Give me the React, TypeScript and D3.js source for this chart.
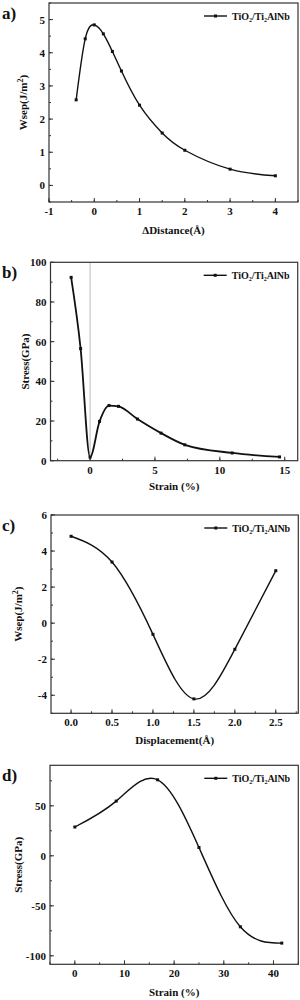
import * as React from 'react';
import * as d3 from 'd3';

// a) separation work vs distance
const distA = [-0.4, -0.2, 0, 0.2, 0.4, 0.6, 1.0, 1.5, 2.0, 3.0, 4.0];
const wsepA = [2.58, 4.42, 4.84, 4.57, 4.04, 3.45, 2.42, 1.58, 1.06, 0.49, 0.29];
// b) tensile stress vs strain
const strainB = [-1.46, -0.73, 0, 0.73, 1.46, 2.19, 3.65, 5.47, 7.3, 10.95, 14.6];
const stressB = [92.4, 56.5, 1.8, 19.8, 27.8, 27.4, 21, 13.9, 8.0, 3.9, 1.9];
// c) sliding work vs displacement
const dispC = [0, 0.5, 1.0, 1.5, 2.0, 2.5];
const wsepC = [4.82, 3.39, -0.62, -4.2, -1.45, 2.91];
// d) shear stress vs strain
const strainD = [0, 8.33, 16.67, 25, 33.33, 41.67];
const stressD = [28.8, 54.7, 76, 8.3, -71, -87.3];

const seriesName = 'TiO₂/Ti₂AlNb';
const font = '"Liberation Serif", "Times New Roman", serif';

type PanelProps = {
  tag: string;
  xs: number[];
  ys: number[];
  box: [number, number, number, number]; // left, top, right, bottom
  xDomain: [number, number];
  yDomain: [number, number];
  xTicks: number[];
  yTicks: number[];
  xMinor: number;
  yMinor: number;
  xFmt?: (v: number) => string;
  xTitle: string;
  yTitle: React.ReactNode;
  xTitleDy: number;
  yTitleX: number;
  curve: d3.CurveFactory;
  vline?: number;
  strokeW?: number;
};

function Panel(p: PanelProps) {
  const [l, t, r, b] = p.box;
  const x = d3.scaleLinear().domain(p.xDomain).range([l, r]);
  const y = d3.scaleLinear().domain(p.yDomain).range([b, t]);
  const line = d3.line<number>().x((_, i) => x(p.xs[i])).y(v => y(v)).curve(p.curve);
  const minorX = d3.range(Math.ceil(p.xDomain[0] / p.xMinor) * p.xMinor, p.xDomain[1] + 1e-9, p.xMinor);
  const minorY = d3.range(Math.ceil(p.yDomain[0] / p.yMinor) * p.yMinor, p.yDomain[1] + 1e-9, p.yMinor);
  const fmt = p.xFmt || ((v: number) => String(v));
  const legY = t + 13;
  return (
    <g fontFamily={font} fontWeight="bold">
      {p.vline !== undefined && (
        <line x1={x(p.vline)} x2={x(p.vline)} y1={t} y2={b} stroke="#bbb" strokeWidth={1} />
      )}
      {minorX.map((v, i) => (
        <line key={'mx' + i} x1={x(v)} x2={x(v)} y1={b} y2={b - 2} stroke="#333" />
      ))}
      {minorY.map((v, i) => (
        <line key={'my' + i} x1={l + 2} x2={l} y1={y(v)} y2={y(v)} stroke="#333" />
      ))}
      {p.xTicks.map(v => (
        <g key={'x' + v}>
          <line x1={x(v)} x2={x(v)} y1={b} y2={b - 4} stroke="#333" />
          <text x={x(v)} y={b + 13} textAnchor="middle" fontSize={11} fill="#111">{fmt(v)}</text>
        </g>
      ))}
      {p.yTicks.map(v => (
        <g key={'y' + v}>
          <line x1={l + 4} x2={l} y1={y(v)} y2={y(v)} stroke="#333" />
          <text x={l - 4} y={y(v) + 4} textAnchor="end" fontSize={11} fill="#111">{v}</text>
        </g>
      ))}
      <rect x={l} y={t} width={r - l} height={b - t} fill="none" stroke="#333" strokeWidth={1.2} />
      <path d={line(p.ys) || ''} fill="none" stroke="#111" strokeWidth={p.strokeW || 1.4} />
      {p.ys.map((v, i) => (
        <rect key={'m' + i} x={x(p.xs[i]) - 1.5} y={y(v) - 1.5} width={3} height={3} fill="#111" />
      ))}
      <line x1={r - 94} x2={r - 71} y1={legY} y2={legY} stroke="#111" strokeWidth={1.4} />
      <rect x={r - 84} y={legY - 1.5} width={3} height={3} fill="#111" />
      <text x={r - 66} y={legY + 3.5} fontSize={10} fill="#111">{seriesName}</text>
      <text x={(l + r) / 2} y={b + p.xTitleDy} textAnchor="middle" fontSize={11} fill="#111">{p.xTitle}</text>
      <text transform={`translate(${p.yTitleX},${(t + b) / 2}) rotate(-90)`} textAnchor="middle" fontSize={11} fill="#111">{p.yTitle}</text>
      <text x={2} y={t + 16} fontSize={17} fill="#111">{p.tag}</text>
    </g>
  );
}

const wsepTitle = (
  <>
    Wsep(J/m<tspan baselineShift="super" fontSize={8}>2</tspan>)
  </>
);

export default function App() {
  return (
    <svg width={300} height={1000} style={{ position: 'absolute', left: 0, top: 0, background: '#fff' }}>
      <Panel tag="a)" xs={distA} ys={wsepA} box={[49, 3, 298, 202]} xDomain={[-1, 4.5]} yDomain={[-0.5, 5.5]}
        xTicks={[-1, 0, 1, 2, 3, 4]} yTicks={[0, 1, 2, 3, 4, 5]} xMinor={0.5} yMinor={0.5}
        xTitle="ΔDistance(Å)" yTitle={wsepTitle} xTitleDy={32} yTitleX={27} curve={d3.curveNatural} />
      <Panel tag="b)" xs={strainB} ys={stressB} box={[50.5, 262.3, 297.7, 460.7]} xDomain={[-3.05, 16]} yDomain={[0, 100]}
        xTicks={[0, 5, 10, 15]} yTicks={[0, 20, 40, 60, 80, 100]} xMinor={2.5} yMinor={10}
        xTitle="Strain (%)" yTitle="Stress(GPa)" xTitleDy={29} yTitleX={29} curve={d3.curveMonotoneX} vline={0} strokeW={1.8} />
      <Panel tag="c)" xs={dispC} ys={wsepC} box={[51, 515, 298.3, 713.3]} xDomain={[-0.245, 2.775]} yDomain={[-5, 6]}
        xTicks={[0, 0.5, 1, 1.5, 2, 2.5]} yTicks={[-4, -2, 0, 2, 4, 6]} xMinor={0.25} yMinor={1}
        xFmt={v => v.toFixed(1)} xTitle="Displacement(Å)" yTitle={wsepTitle} xTitleDy={31} yTitleX={22} curve={d3.curveNatural} />
      <Panel tag="d)" xs={strainD} ys={stressD} box={[50, 765.3, 298.3, 964.3]} xDomain={[-5, 45]} yDomain={[-108.5, 90.5]}
        xTicks={[0, 10, 20, 30, 40]} yTicks={[-100, -50, 0, 50]} xMinor={5} yMinor={25}
        xTitle="Strain (%)" yTitle="Stress(GPa)" xTitleDy={32} yTitleX={22} curve={d3.curveNatural} />
    </svg>
  );
}
